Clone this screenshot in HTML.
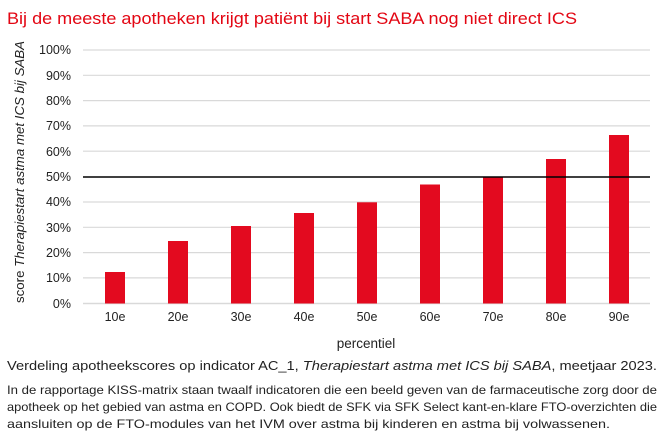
<!DOCTYPE html><html><head><style>body{margin:0;width:664px;height:442px;background:#fff;font-family:"Liberation Sans",sans-serif;overflow:hidden}</style></head><body>
<svg width="664" height="442" xmlns="http://www.w3.org/2000/svg" style="position:absolute;left:0;top:0">
<text x="7" y="24" font-size="17" fill="#e30613" textLength="570" lengthAdjust="spacingAndGlyphs">Bij de meeste apotheken krijgt patiënt bij start SABA nog niet direct ICS</text>
<g stroke="#d9d9d9" stroke-width="1.2">
<line x1="83" x2="650" y1="50" y2="50"/><line x1="83" x2="650" y1="75.3" y2="75.3"/><line x1="83" x2="650" y1="100.6" y2="100.6"/><line x1="83" x2="650" y1="125.9" y2="125.9"/><line x1="83" x2="650" y1="151.2" y2="151.2"/><line x1="83" x2="650" y1="202" y2="202"/><line x1="83" x2="650" y1="227.3" y2="227.3"/><line x1="83" x2="650" y1="252.6" y2="252.6"/><line x1="83" x2="650" y1="277.9" y2="277.9"/><line x1="83" x2="650" y1="303.5" y2="303.5" stroke-width="1.5"/>
</g>
<g fill="#e30a1f">
<rect x="105" y="272" width="20" height="31.5"/><rect x="168" y="241" width="20" height="62.5"/><rect x="231" y="226" width="20" height="77.5"/><rect x="294" y="213" width="20" height="90.5"/><rect x="357" y="202.3" width="20" height="101.2"/><rect x="420" y="184.5" width="20" height="119"/><rect x="483" y="177" width="20" height="126.5"/><rect x="546" y="159" width="20" height="144.5"/><rect x="609" y="135" width="20" height="168.5"/>
</g>
<line x1="83" x2="650" y1="177" y2="177" stroke="#000" stroke-width="1.6"/>
<g font-size="12.5" fill="#222" text-anchor="end">
<text x="71" y="54">100%</text><text x="71" y="80">90%</text><text x="71" y="105">80%</text><text x="71" y="130">70%</text><text x="71" y="156">60%</text><text x="71" y="181">50%</text><text x="71" y="206">40%</text><text x="71" y="232">30%</text><text x="71" y="257">20%</text><text x="71" y="282">10%</text><text x="71" y="308">0%</text>
</g>
<g font-size="12.5" fill="#222" text-anchor="middle">
<text x="115" y="321">10e</text><text x="178" y="321">20e</text><text x="241" y="321">30e</text><text x="304" y="321">40e</text><text x="367" y="321">50e</text><text x="430" y="321">60e</text><text x="493" y="321">70e</text><text x="556" y="321">80e</text><text x="619" y="321">90e</text>
<text x="366" y="348" font-size="13.5">percentiel</text>
</g>
<text transform="translate(24,172) rotate(-90)" font-size="13" fill="#222" text-anchor="middle" textLength="262" lengthAdjust="spacingAndGlyphs">score <tspan font-style="italic">Therapiestart astma met ICS bij SABA</tspan></text>
<text x="7" y="370" font-size="13" fill="#222" textLength="650" lengthAdjust="spacingAndGlyphs">Verdeling apotheekscores op indicator AC_1, <tspan font-style="italic">Therapiestart astma met ICS bij SABA</tspan>, meetjaar 2023.</text>
<g font-size="12" fill="#222">
<text x="7" y="394" textLength="650" lengthAdjust="spacingAndGlyphs">In de rapportage KISS-matrix staan twaalf indicatoren die een beeld geven van de farmaceutische zorg door de</text>
<text x="7" y="411" textLength="650" lengthAdjust="spacingAndGlyphs">apotheek op het gebied van astma en COPD. Ook biedt de SFK via SFK Select kant-en-klare FTO-overzichten die</text>
<text x="7" y="428" textLength="603" lengthAdjust="spacingAndGlyphs">aansluiten op de FTO-modules van het IVM over astma bij kinderen en astma bij volwassenen.</text>
</g>
</svg></body></html>
